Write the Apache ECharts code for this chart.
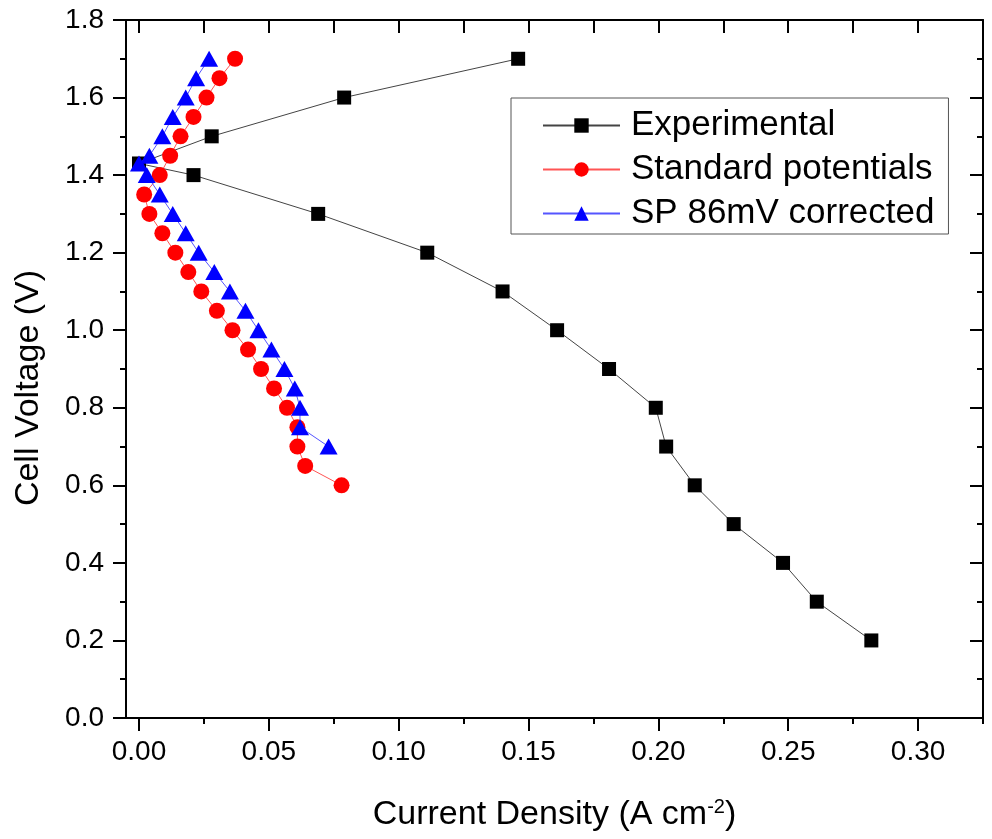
<!DOCTYPE html>
<html><head><meta charset="utf-8">
<script src="https://cdn.jsdelivr.net/npm/echarts@6/dist/echarts.min.js"></script>
<style>html,body{margin:0;padding:0;background:#fff}#c{width:992px;height:839px}</style>
</head><body><div id="c"></div>
<script>
const seriesNames = ['Experimental', 'Standard potentials', 'SP 86mV corrected'];
const expX = [0.146, 0.079, 0.028, 0.000, 0.021, 0.069, 0.111, 0.140, 0.161, 0.181, 0.199, 0.203, 0.214, 0.229, 0.248, 0.261, 0.282];
const expY = [1.70, 1.60, 1.50, 1.43, 1.40, 1.30, 1.20, 1.10, 1.00, 0.90, 0.80, 0.70, 0.60, 0.50, 0.40, 0.30, 0.20];
const spX = [0.037, 0.031, 0.026, 0.021, 0.016, 0.012, 0.008, 0.002, 0.004, 0.009, 0.014, 0.019, 0.024, 0.030, 0.036, 0.042, 0.047, 0.052, 0.057, 0.061, 0.061, 0.064, 0.078];
const spY = [1.70, 1.65, 1.60, 1.55, 1.50, 1.45, 1.40, 1.35, 1.30, 1.25, 1.20, 1.15, 1.10, 1.05, 1.00, 0.95, 0.90, 0.85, 0.80, 0.75, 0.70, 0.65, 0.60];
const corrX = [0.027, 0.022, 0.018, 0.013, 0.009, 0.004, 0.000, 0.003, 0.008, 0.013, 0.018, 0.023, 0.029, 0.035, 0.041, 0.046, 0.051, 0.056, 0.060, 0.062, 0.062, 0.073];
const corrY = [1.70, 1.65, 1.60, 1.55, 1.50, 1.45, 1.43, 1.40, 1.35, 1.30, 1.25, 1.20, 1.15, 1.10, 1.05, 1.00, 0.95, 0.90, 0.85, 0.80, 0.75, 0.70];
const xMajorTicks = [0, 0.05, 0.10, 0.15, 0.20, 0.25, 0.30];
const xMinorTicks = [0.025, 0.075, 0.125, 0.175, 0.225, 0.275, 0.325];
const xTopTicks = [0, 0.025, 0.05, 0.075, 0.10, 0.125, 0.15, 0.175, 0.20, 0.225, 0.25, 0.275, 0.30, 0.325];

const zip = (xs, ys) => xs.map((x, i) => [x, ys[i]]);
const FONT = '"Liberation Sans", Arial, sans-serif';
const chart = echarts.init(document.getElementById('c'));
const XMIN = -0.005, XMAX = 0.325;
const axisLine = {show: true, onZero: false, lineStyle: {color: '#000', width: 2}};
chart.setOption({
  animation: false,
  backgroundColor: '#fff',
  grid: {left: 126, right: 9, top: 20, bottom: 121, containLabel: false},
  legend: {
    left: 511, top: 98, orient: 'vertical',
    borderColor: '#555', borderWidth: 1, backgroundColor: '#fff',
    padding: [10, 14, 3, 31],
    itemWidth: 77, itemHeight: 18, itemGap: 9,
    textStyle: {fontFamily: FONT, fontSize: 35, color: '#000', lineHeight: 34, padding: [0, 0, 0, 6]},
    data: seriesNames
  },
  xAxis: [
    {type: 'value', position: 'bottom', min: XMIN, max: XMAX,
     axisLine: axisLine, splitLine: {show: false},
     axisTick: {show: true, customValues: xMajorTicks, length: 13, inside: false, lineStyle: {color: '#000', width: 2}},
     axisLabel: {show: true, customValues: xMajorTicks, margin: 20, fontFamily: FONT, fontSize: 28, color: '#000',
                 formatter: v => v.toFixed(2)},
     name: '{t|Current Density (A cm}{s|-2}{t|)}', nameLocation: 'middle', nameGap: 79,
     nameTextStyle: {rich: {
       t: {fontFamily: FONT, fontSize: 34, color: '#000', lineHeight: 36},
       s: {fontFamily: FONT, fontSize: 20, color: '#000', verticalAlign: 'top', lineHeight: 36, padding: [0, 0, 14, 0]}
     }}},
    {type: 'value', position: 'bottom', min: XMIN, max: XMAX,
     axisLine: {show: false}, splitLine: {show: false},
     axisTick: {show: true, customValues: xMinorTicks, length: 6, inside: false, lineStyle: {color: '#000', width: 2}},
     axisLabel: {show: false}},
    {type: 'value', position: 'top', min: XMIN, max: XMAX,
     axisLine: axisLine, splitLine: {show: false},
     axisTick: {show: true, customValues: xTopTicks, length: 13, inside: true, lineStyle: {color: '#000', width: 2}},
     axisLabel: {show: false}}
  ],
  yAxis: [
    {type: 'value', position: 'left', min: 0, max: 1.8, interval: 0.2,
     axisLine: axisLine, splitLine: {show: false},
     axisTick: {show: true, length: 13, inside: false, lineStyle: {color: '#000', width: 2}},
     minorTick: {show: true, splitNumber: 2, length: 6, lineStyle: {color: '#000', width: 2}},
     axisLabel: {margin: 22, fontFamily: FONT, fontSize: 28, color: '#000', formatter: v => v.toFixed(1)},
     name: 'Cell Voltage (V)', nameLocation: 'middle', nameGap: 80,
     nameTextStyle: {fontFamily: FONT, fontSize: 34, color: '#000', padding: [0, 38, 0, 0]}},
    {type: 'value', position: 'right', min: 0, max: 1.8, interval: 0.2,
     axisLine: axisLine, splitLine: {show: false},
     axisTick: {show: true, length: 13, inside: true, lineStyle: {color: '#000', width: 2}},
     minorTick: {show: true, splitNumber: 2, length: 6, lineStyle: {color: '#000', width: 2}},
     axisLabel: {show: false}}
  ],
  series: [
    {name: seriesNames[0], type: 'line', data: zip(expX, expY), xAxisIndex: 0, yAxisIndex: 0,
     symbol: 'rect', symbolSize: 14, itemStyle: {color: '#000'}, lineStyle: {color: '#444', width: 1}, z: 2},
    {name: seriesNames[1], type: 'line', data: zip(spX, spY), xAxisIndex: 0, yAxisIndex: 0,
     symbol: 'circle', symbolSize: 16, itemStyle: {color: '#ff0000'}, lineStyle: {color: '#ff5555', width: 1}, z: 3},
    {name: seriesNames[2], type: 'line', data: zip(corrX, corrY), xAxisIndex: 0, yAxisIndex: 0,
     symbol: 'triangle', symbolSize: [18, 16], itemStyle: {color: '#0000ff'}, lineStyle: {color: '#5555ff', width: 1}, z: 4}
  ]
});
</script></body></html>
